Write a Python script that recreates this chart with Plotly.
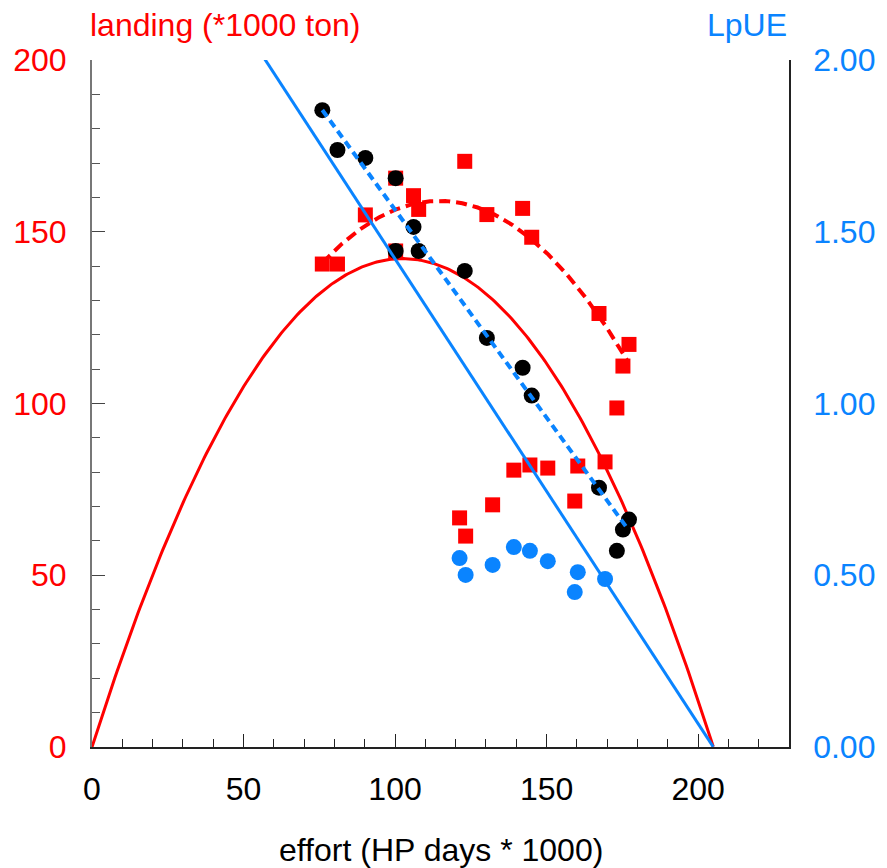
import numpy as np
import plotly.graph_objects as go

# ---- data ----
# period 1: effort, LpUE (black dots, right axis) and landing (red squares, left axis)
effort_p1 = [76.0, 81.0, 90.2, 100.2, 106.1, 100.2, 107.8, 123.0, 130.3, 142.1, 145.1, 167.3, 177.2, 175.2, 173.2]
lpue_p1 = [1.854, 1.738, 1.715, 1.656, 1.514, 1.444, 1.444, 1.386, 1.191, 1.104, 1.023, 0.755, 0.662, 0.633, 0.571]
landing_p1 = [140.6, 140.6, 154.9, 165.6, 160.5, 144.4, 156.5, 170.5, 155.0, 156.8, 148.4, 126.2, 117.2, 110.9, 98.7]

# period 2: effort, LpUE (blue dots) and landing (red squares)
effort_p2 = [121.3, 123.3, 132.2, 139.2, 144.5, 150.4, 160.3, 159.3, 169.3]
lpue_p2 = [0.550, 0.501, 0.530, 0.582, 0.571, 0.541, 0.509, 0.451, 0.489]
landing_p2 = [66.7, 61.4, 70.5, 80.6, 82.1, 81.2, 81.8, 71.6, 83.0]

# fitted model coefficients (LpUE = a - b * effort; landing = effort * LpUE)
fit_a = 2.774
fit_b_solid = 0.01353   # long-term model, zero at ~205
fit_b_dashed = 0.0121   # period-1 fit
solid_effort_range = [0.0, 205.0]
dashed_effort_range = [76.0, 177.0]

x_ticks = [0, 50, 100, 150, 200]
y_ticks = [0, 50, 100, 150, 200]
y2_ticks = [0.0, 0.5, 1.0, 1.5, 2.0]
y2_ticklabels = ["0.00", "0.50", "1.00", "1.50", "2.00"]

RED = "#ff0000"
BLUE = "#0a84ff"
FONT = "Liberation Sans, Arial, sans-serif"
FS = 32

e_solid = np.linspace(solid_effort_range[0], solid_effort_range[1], 300)
e_dash = np.linspace(dashed_effort_range[0], dashed_effort_range[1], 200)
lpue_solid = fit_a - fit_b_solid * e_solid
land_solid = e_solid * lpue_solid
lpue_dash = fit_a - fit_b_dashed * e_dash
land_dash = e_dash * lpue_dash

fig = go.Figure()

fig.add_trace(go.Scatter(x=effort_p1, y=landing_p1, mode="markers",
                         marker=dict(symbol="square", size=15, color=RED), yaxis="y"))
fig.add_trace(go.Scatter(x=effort_p2, y=landing_p2, mode="markers",
                         marker=dict(symbol="square", size=15, color=RED), yaxis="y"))
fig.add_trace(go.Scatter(x=effort_p1, y=lpue_p1, mode="markers",
                         marker=dict(symbol="circle", size=16, color="black"), yaxis="y2"))
fig.add_trace(go.Scatter(x=effort_p2, y=lpue_p2, mode="markers",
                         marker=dict(symbol="circle", size=16, color=BLUE), yaxis="y2"))

fig.add_trace(go.Scatter(x=e_solid, y=land_solid, mode="lines",
                         line=dict(color=RED, width=3), yaxis="y"))
fig.add_trace(go.Scatter(x=e_solid, y=lpue_solid, mode="lines",
                         line=dict(color=BLUE, width=3), yaxis="y2"))
fig.add_trace(go.Scatter(x=e_dash, y=land_dash, mode="lines",
                         line=dict(color=RED, width=4, dash="11px,6px"), yaxis="y"))
fig.add_trace(go.Scatter(x=e_dash, y=lpue_dash, mode="lines",
                         line=dict(color=BLUE, width=4, dash="8px,5px"), yaxis="y2"))

# page body has an 8px default margin, so the figure is a bit smaller than the window
fig.update_layout(
    width=879, height=860,
    margin=dict(l=84, r=98, t=52, b=121),
    paper_bgcolor="white", plot_bgcolor="white",
    showlegend=False,
    font=dict(family=FONT, size=FS, color="black"),
    xaxis=dict(
        range=[0, 230], tickvals=x_ticks, ticks="inside", ticklen=13, tickwidth=1,
        tickcolor="#222", showline=True, linecolor="#222", linewidth=1.5,
        showgrid=False, zeroline=False, ticklabelstandoff=13, automargin=False,
        tickfont=dict(color="black", size=FS),
        minor=dict(dtick=10, ticks="inside", ticklen=8, tickcolor="#222", showgrid=False),
    ),
    yaxis=dict(
        range=[0, 200], tickvals=y_ticks, ticks="inside", ticklen=13, tickwidth=1,
        tickcolor="#444", showline=True, linecolor="#777", linewidth=2,
        showgrid=False, zeroline=False, ticklabelstandoff=17, automargin=False,
        tickfont=dict(color=RED, size=FS),
        minor=dict(dtick=10, ticks="inside", ticklen=8, tickcolor="#555", showgrid=False),
    ),
    yaxis2=dict(
        range=[0, 2], overlaying="y", side="right", tickvals=y2_ticks,
        ticktext=y2_ticklabels, ticks="", showline=True, linecolor="#222",
        linewidth=1.5, showgrid=False, zeroline=False, ticklabelstandoff=16,
        automargin=False, tickfont=dict(color=BLUE, size=FS),
    ),
    annotations=[
        dict(text="landing (*1000 ton)", xref="paper", yref="paper", x=0, y=1,
             xanchor="left", yanchor="middle", yshift=35, xshift=-4, showarrow=False,
             font=dict(color=RED, size=FS, family=FONT)),
        dict(text="LpUE", xref="paper", yref="paper", x=1, y=1,
             xanchor="right", yanchor="middle", yshift=35, showarrow=False,
             font=dict(color=BLUE, size=FS, family=FONT)),
        dict(text="effort (HP days * 1000)", xref="paper", yref="paper", x=0.5, y=0,
             xanchor="center", yanchor="middle", yshift=-103, showarrow=False,
             font=dict(color="black", size=FS, family=FONT)),
    ],
)

fig.write_html("out.html")
